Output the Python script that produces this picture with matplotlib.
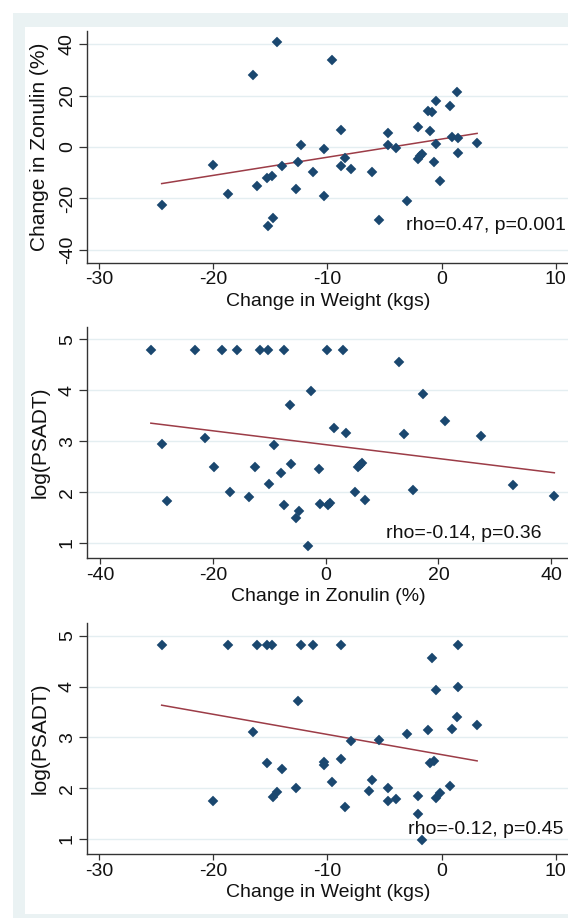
import numpy as np
import matplotlib
matplotlib.use("Agg")
import matplotlib.pyplot as plt
from matplotlib.patches import Rectangle

plt.rcParams['font.family'] = ['Liberation Sans', 'DejaVu Sans']

# ---------------- data ----------------
# Panel 1: change in weight (kgs) vs change in zonulin (%)
p1_weight = [-14.4, -9.6, -16.5, 1.34, -0.45, 0.77, -1.15, -0.8, -2.04, -8.83,
             -1.02, -4.69, 0.9, 1.47, 3.12, -0.45, -4.69, -12.27, -3.95, -10.26,
             1.43, -1.69, -1.88, -8.45, -2.04, -0.7, -12.59, -20.05, -13.93, -8.83,
             -7.94, -11.25, -6.06, -14.82, -15.27, -0.13, -16.16, -12.72, -18.74, -10.26,
             -3.03, -24.51, -14.73, -5.48, -15.17]
p1_zonulin = [40.6, 33.7, 27.8, 21.4, 18.0, 15.9, 14.1, 13.4, 7.6, 6.5,
              6.1, 5.5, 4.0, 3.6, 1.7, 1.2, 0.8, 0.65, -0.4, -0.8,
              -2.3, -2.7, -3.6, -4.3, -4.8, -5.9, -5.9, -6.8, -7.2, -7.3,
              -8.7, -9.8, -9.8, -11.2, -12.2, -13.2, -15.1, -16.2, -18.1, -19.2,
              -21.1, -22.5, -27.5, -28.5, -30.5]

# Panel 2: change in zonulin (%) vs log(PSADT)
p2_zonulin = [-30.98, -23.2, -18.38, -15.75, -11.57, -10.15, -7.39, 0.19, 3.08, 12.98,
              -2.51, 17.22, -6.36, 21.08, 1.54, 3.53, 13.95, 27.57, -21.4, -28.98,
              -9.19, -6.1, 6.43, 6.17, 5.72, -19.86, -12.6, -1.16, -7.9, -9.96,
              33.16, 15.49, -16.9, 5.14, -13.5, 40.55, -28.15, 6.94, -0.96, -7.39,
              0.84, 0.45, -4.76, -5.27, -3.15]
p2_psadt = [4.80, 4.80, 4.80, 4.80, 4.80, 4.80, 4.80, 4.80, 4.80, 4.555,
            3.985, 3.93, 3.71, 3.39, 3.25, 3.17, 3.14, 3.095, 3.07, 2.94,
            2.92, 2.545, 2.58, 2.54, 2.50, 2.50, 2.50, 2.45, 2.375, 2.15,
            2.13, 2.05, 2.0, 2.0, 1.90, 1.92, 1.825, 1.85, 1.77, 1.75,
            1.79, 1.75, 1.63, 1.50, 0.95]

# Panel 3: change in weight (kgs) vs log(PSADT)
p3_weight = [-24.51, -18.74, -16.16, -15.27, -14.82, -12.27, -11.25, -8.83, 1.47, -0.8,
             -0.45, 1.47, -12.59, 1.34, 3.12, 0.9, -1.15, -16.5, -3.03, -5.48,
             -7.94, -8.83, -0.7, -1.02, -15.27, -10.26, -10.26, -13.93, -9.6, -6.06,
             0.77, -12.72, -4.69, -6.34, -14.4, -0.13, -14.73, -2.04, -20.05, -4.69,
             -3.95, -0.45, -8.45, -2.04, -1.69]
p3_psadt = [4.81, 4.81, 4.81, 4.81, 4.81, 4.81, 4.81, 4.81, 4.81, 4.56,
            3.94, 3.99, 3.71, 3.39, 3.24, 3.17, 3.15, 3.10, 3.07, 2.95,
            2.92, 2.57, 2.54, 2.50, 2.50, 2.51, 2.46, 2.37, 2.13, 2.15,
            2.05, 2.0, 2.0, 1.95, 1.93, 1.90, 1.83, 1.85, 1.75, 1.75,
            1.78, 1.80, 1.63, 1.50, 0.97]

annotations = ["rho=0.47, p=0.001", "rho=-0.14, p=0.36", "rho=-0.12, p=0.45"]
x_titles = ["Change in Weight (kgs)", "Change in Zonulin (%)", "Change in Weight (kgs)"]
y_titles = ["Change in Zonulin (%)", "log(PSADT)", "log(PSADT)"]
x_ticks = [[-30, -20, -10, 0, 10], [-40, -20, 0, 20, 40], [-30, -20, -10, 0, 10]]
y_ticks = [[-40, -20, 0, 20, 40], [1, 2, 3, 4, 5], [1, 2, 3, 4, 5]]

# ---------------- figure ----------------
W, H = 568, 918
fig = plt.figure(figsize=(W / 100, H / 100), dpi=100)
fig.patch.set_facecolor("white")

def fx(px):
    return px / W

def fy(py):
    return 1 - py / H

# outer light-bluish frame and inner white region
fig.patches.append(Rectangle((fx(13), fy(935)), fx(700) - fx(13), fy(13) - fy(935),
                             transform=fig.transFigure, facecolor="#eaf2f3",
                             edgecolor="none", zorder=-10))
fig.patches.append(Rectangle((fx(25), fy(914)), fx(700) - fx(25), fy(27) - fy(914),
                             transform=fig.transFigure, facecolor="white",
                             edgecolor="none", zorder=-9))

NAVY = "#1a476f"
MAROON = "#9c3c47"
AXC = "#333333"

panels = [
    dict(x=p1_weight, y=p1_zonulin, top=31, bot=263, xlim=(-31.05, 12.13), ylim=(-45.05, 45.05),
         ann=(406, 225)),
    dict(x=p2_zonulin, y=p2_psadt, top=326.7, bot=558.3, xlim=(-42.3, 45.1), ylim=(0.70, 5.248),
         ann=(386, 533)),
    dict(x=p3_weight, y=p3_psadt, top=622.7, bot=854.3, xlim=(-31.05, 12.13), ylim=(0.697, 5.256),
         ann=(408, 830)),
]

left_px, right_px = 87, 580
for i, p in enumerate(panels):
    ax = fig.add_axes([fx(left_px), fy(p["bot"]), fx(right_px) - fx(left_px),
                       (p["bot"] - p["top"]) / H])
    ax.set_zorder(5)
    ax.set_facecolor("white")
    x = np.array(p["x"])
    y = np.array(p["y"])
    # linear fit line
    b, a = np.polyfit(x, y, 1)
    xs = np.array([x.min(), x.max()])
    ax.plot(xs, a + b * xs, color=MAROON, lw=1.1, zorder=3)
    ax.plot(x, y, linestyle="none", marker="D", ms=5.0, mfc=NAVY, mec=NAVY, mew=0.3, zorder=4)

    ax.set_xlim(*p["xlim"])
    ax.set_ylim(*p["ylim"])
    ax.set_xticks(x_ticks[i])
    ax.set_yticks(y_ticks[i])
    ax.set_yticklabels([str(t) for t in y_ticks[i]], rotation=90, va="center")
    ax.set_xticklabels([str(t) for t in x_ticks[i]])
    ax.grid(axis="y", color="#e4eef1", lw=1.0, zorder=0)
    ax.set_axisbelow(True)
    for s in ["top", "right"]:
        ax.spines[s].set_visible(False)
    for s in ["left", "bottom"]:
        ax.spines[s].set_color(AXC)
        ax.spines[s].set_linewidth(1.0)
    ax.tick_params(axis="x", direction="out", length=4.5, width=0.9, color=AXC,
                   labelsize=14, pad=1.5, labelcolor="#111111")
    ax.tick_params(axis="y", direction="out", length=6, width=0.9, color=AXC,
                   labelsize=14, pad=2, labelcolor="#111111")
    ax.set_xlabel(x_titles[i], fontsize=14, color="#111111")
    ax.set_ylabel(y_titles[i], fontsize=15, color="#111111")
    hpx = p["bot"] - p["top"]
    ax.xaxis.set_label_coords((328 - left_px) / (right_px - left_px), -38 / hpx)
    ax.yaxis.set_label_coords(-(left_px - 40) / (right_px - left_px), 0.5)
    ax.xaxis.label.set_va("center")
    ax.yaxis.label.set_va("center")
    fig.text(fx(p["ann"][0]), fy(p["ann"][1]), annotations[i], fontsize=14,
             ha="left", va="center", color="#111111", zorder=10)

fig.savefig("out.png", dpi=100, facecolor=fig.get_facecolor())
